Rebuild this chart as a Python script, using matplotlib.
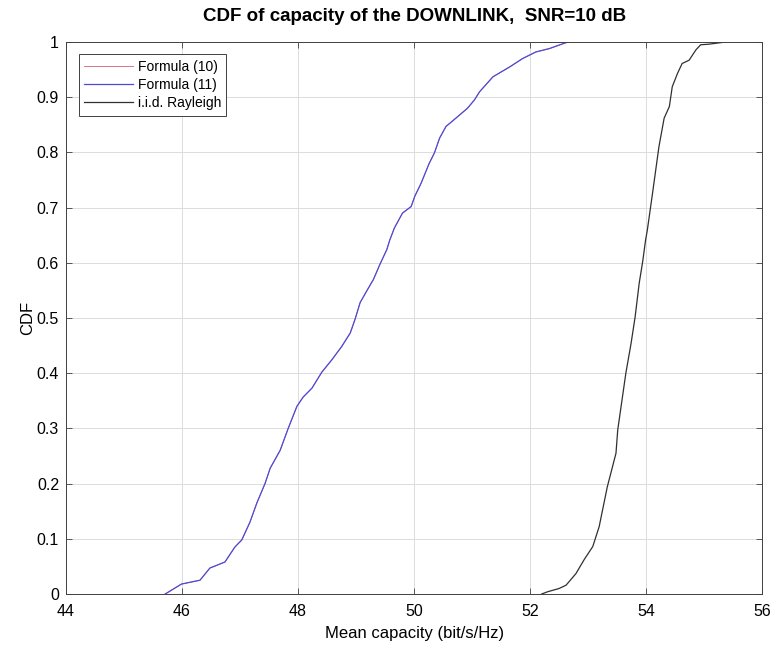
import matplotlib
matplotlib.use('Agg')
import matplotlib.pyplot as plt
import numpy as np

plt.rcParams['font.family'] = ['Liberation Sans', 'DejaVu Sans']

# Formula (10) and (11) curves coincide
f_x = [45.71, 45.99, 46.31, 46.48, 46.74, 46.91, 47.03, 47.17, 47.29, 47.43,
       47.52, 47.69, 47.83, 47.98, 48.09, 48.24, 48.41, 48.58, 48.75, 48.90,
       48.98, 49.07, 49.20, 49.30, 49.41, 49.53, 49.58, 49.66, 49.80, 49.95,
       50.01, 50.12, 50.26, 50.35, 50.44, 50.55, 50.72, 50.92, 51.04, 51.13,
       51.36, 51.65, 51.87, 52.10, 52.33, 52.65]
f_y = [0.0, 0.018, 0.025, 0.047, 0.058, 0.085, 0.098, 0.13, 0.165, 0.2,
       0.228, 0.26, 0.30, 0.34, 0.357, 0.373, 0.402, 0.424, 0.448, 0.473,
       0.497, 0.528, 0.552, 0.57, 0.597, 0.624, 0.641, 0.663, 0.69, 0.702,
       0.72, 0.744, 0.78, 0.799, 0.826, 0.847, 0.862, 0.88, 0.895, 0.91,
       0.937, 0.955, 0.97, 0.982, 0.988, 1.0]

# i.i.d. Rayleigh
r_x = [52.20, 52.30, 52.50, 52.62, 52.79, 52.93, 53.08, 53.19, 53.33, 53.48,
       53.51, 53.65, 53.74, 53.81, 53.88, 53.94, 53.99, 54.02, 54.11, 54.22,
       54.31, 54.40, 54.45, 54.54, 54.62, 54.74, 54.86, 54.94, 55.08, 55.37]
r_y = [0.0, 0.004, 0.01, 0.016, 0.037, 0.062, 0.086, 0.122, 0.194, 0.255,
       0.297, 0.40, 0.454, 0.502, 0.563, 0.602, 0.641, 0.659, 0.726, 0.81,
       0.862, 0.883, 0.919, 0.943, 0.961, 0.967, 0.986, 0.995, 0.996, 1.0]

fig = plt.figure(figsize=(7.73, 6.46), dpi=100)
ax = fig.add_axes([0.0854, 0.0805, 0.9006, 0.8545])

ax.plot(f_x, f_y, color='#d06070', lw=0.6, label='Formula (10)')
ax.plot(f_x, f_y, color='#4c4cd8', lw=0.9, label='Formula (11)')
ax.plot(r_x, r_y, color='#303030', lw=0.9, label='i.i.d. Rayleigh')

ax.set_xlim(44, 56)
ax.set_ylim(0, 1)
ax.set_xticks(np.arange(44, 57, 2))
ax.set_yticks(np.arange(0, 1.01, 0.1))
ax.set_yticklabels(['0', '0.1', '0.2', '0.3', '0.4', '0.5', '0.6', '0.7', '0.8', '0.9', '1'])
ax.grid(True, color='#dcdcdc', lw=0.7)
ax.set_axisbelow(True)
ax.tick_params(direction='in', top=True, right=True, labelsize=11.5, length=4,
               color='#404040', width=0.6)
ax.tick_params(axis='x', pad=7)
ax.tick_params(axis='y', pad=5)
for s in ax.spines.values():
    s.set_color('#404040')
    s.set_linewidth(0.7)

ax.set_xlabel('Mean capacity (bit/s/Hz)', fontsize=12, labelpad=5)
ax.set_ylabel('CDF', fontsize=12, labelpad=1)
ax.set_title('CDF of capacity of the DOWNLINK,  SNR=10 dB', fontsize=13.5,
             fontweight='bold', pad=15)

leg = ax.legend(loc='upper left', fontsize=10, fancybox=False, framealpha=1,
                edgecolor='#404040', handlelength=3.5, borderpad=0.4,
                labelspacing=0.3, handletextpad=0.35,
                bbox_to_anchor=(0.008, 0.99))
leg.get_frame().set_linewidth(0.7)

fig.savefig('out.png', dpi=100)
